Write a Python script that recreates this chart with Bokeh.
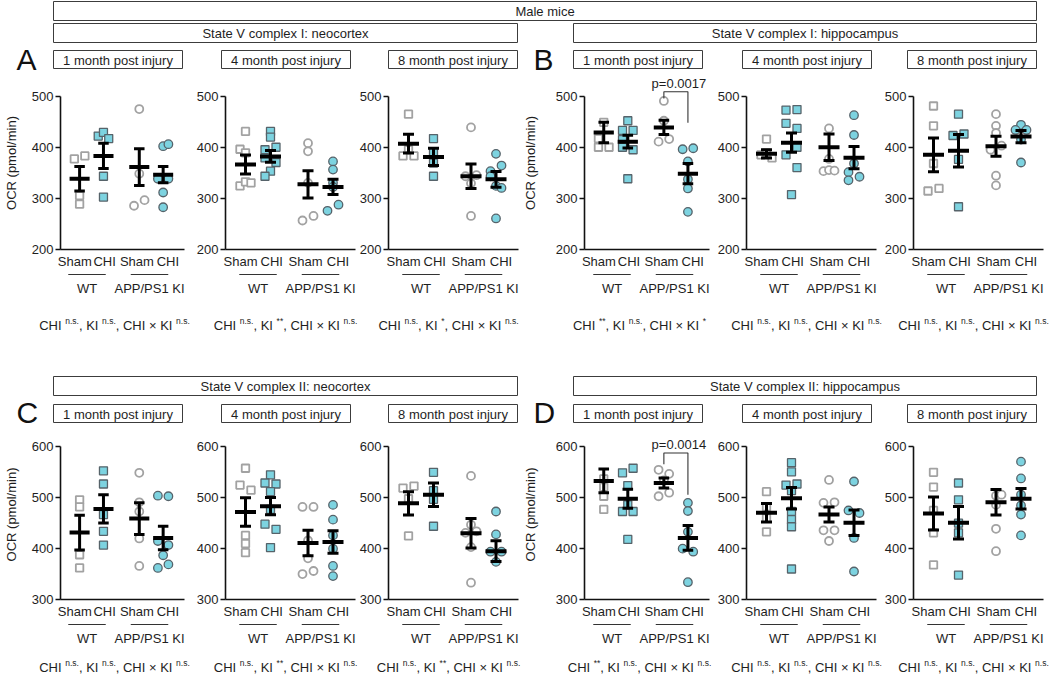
from bokeh.plotting import figure
from bokeh.models import Range1d, FixedTicker
from bokeh.layouts import column, row
from bokeh.embed import file_html
from bokeh.resources import INLINE
from bokeh.core.properties import value

FONT = "Liberation Sans"
INK = "#1e1e1e"
BOX_LINE = "#3c3c3c"
GRAY = "#a2a2a2"
CYAN = "#7dd3e0"
CYAN_EDGE = "#56636a"

# ---------------------------------------------------------------- data
title = "Male mice"
regions = ["State V complex I: neocortex", "State V complex I: hippocampus",
           "State V complex II: neocortex", "State V complex II: hippocampus"]
letters = ["A", "B", "C", "D"]
timepoints = ["1 month post injury", "4 month post injury", "8 month post injury"]
y_label = "OCR (pmol/min)"

group_labels = ["Sham", "CHI", "Sham", "CHI"]
group_x = [0.0, 1.0, 2.5, 3.5]
genotype_labels = ["WT", "APP/PS1 KI"]
genotype_x = [0.5, 3.0]
genotype_span = [(-0.25, 1.25), (2.25, 3.75)]

# groups in each panel: WT Sham, WT CHI, KI Sham, KI CHI
a1_pts = [[378, 384, 306, 289], [423, 430, 418, 344, 303], [476, 349, 286, 297], [403, 407, 339, 339, 312, 283]]
a1_lane = [[-1, 1, 0, 0], [-1, 0, 1, 0, 0], [0, 0, -1, 1], [0, 1, -1, 1, 0, 0]]
a1_mean = [339, 384, 362, 347]
a1_sem = [24, 25, 36, 16]
a1_sig = ["n.s.", "n.s.", "n.s."]

a2_pts = [[432, 397, 390, 325, 333, 331], [432, 421, 401, 396, 380, 371, 354, 344], [409, 393, 331, 257, 266], [373, 357, 331, 323, 276, 288]]
a2_lane = [[0, -1, 0, -1, 0, 1], [0, 0, 1, -1, -1, 1, 0, -1], [0, 0, 0, -1, 1], [0, 0, 0, 0, -1, 1]]
a2_mean = [367, 383, 328, 323]
a2_sem = [18.5, 11.7, 26.6, 15]
a2_sig = ["n.s.", "**", "n.s."]

a3_pts = [[466, 396, 384, 384], [418, 392, 370, 344], [440, 344, 346, 330, 266], [388, 365, 354, 344, 325, 321, 261]]
a3_lane = [[0, 0, -1, 1], [0, 0, 0, 0], [0, -1, 1, 0, 0], [0, 1, -1, -1, 0, 1, 0]]
a3_mean = [408, 382, 344, 338]
a3_sem = [18.5, 17, 24, 15.5]
a3_sig = ["n.s.", "*", "n.s."]

b1_pts = [[450, 418, 401, 401], [453, 434, 434, 416, 401, 396, 339], [492, 453, 412, 417], [397, 399, 373, 338, 320, 274]]
b1_lane = [[0, -1, -1, 1], [0, -1, 1, -1, -1, 1, 0], [0, 0, -1, 1], [-1, 1, 0, 0, 0, 0]]
b1_mean = [430, 412, 440, 349]
b1_sem = [20, 12.5, 14, 20]
b1_sig = ["**", "n.s.", "*"]
b1_bracket = [497, 510, 449]   # left foot, top, right foot
b1_p = "p=0.0017"

b2_pts = [[417, 386, 380, 390], [474, 475, 448, 438, 401, 386, 361, 308], [438, 378, 354, 356, 355], [464, 425, 369, 352, 336, 343]]
b2_lane = [[0, -1, 1, 0], [-1, 1, -1, 1, 1, -1, 1, 0], [0, 0, -1, 0, 1], [0, 0, 0, -1, -1, 1]]
b2_mean = [388, 410, 401, 380.5]
b2_sem = [8, 19, 26, 22]
b2_sig = ["n.s.", "n.s.", "n.s."]

b3_pts = [[482, 443, 369, 315, 320], [466, 424, 427, 377, 284], [466, 443, 429, 396, 404, 345, 326], [445, 435, 435, 416, 371]]
b3_lane = [[0, 0, 0, -1, 1], [0, -1, 1, 0, 0], [0, 0, 0, -1, 1, 0, 0], [0, -1, 1, 0, 0]]
b3_mean = [386, 394, 403, 422]
b3_sem = [33, 32, 19.5, 12]
b3_sig = ["n.s.", "n.s.", "n.s."]

c1_pts = [[496, 482, 388, 362], [553, 527, 467, 434, 407], [549, 491, 473, 420, 366], [504, 503, 415, 407, 387, 362, 369]]
c1_lane = [[0, 0, 0, 0], [0, 0, 0, 0, 0], [0, 0, 0, 0, 0], [-1, 1, -1, 1, 0, -1, 1]]
c1_mean = [431.5, 478, 459, 421]
c1_sem = [34, 27.7, 31, 23]
c1_sig = ["n.s.", "n.s.", "n.s."]

c2_pts = [[558, 525, 515, 426, 410, 392], [545, 529, 527, 512, 477, 448, 438, 402], [482, 482, 416, 381, 350, 356], [486, 457, 426, 400, 366, 346]]
c2_lane = [[0, -1, 1, 0, 0, 0], [0, -1, 1, 0, 0, -1, 1, 0], [-1, 1, 0, 0, -1, 1], [0, 0, 0, 0, 0, 0]]
c2_mean = [472, 483.5, 411, 413]
c2_sem = [28, 17, 25, 22]
c2_sig = ["n.s.", "**", "n.s."]

c3_pts = [[519, 523, 498, 425], [550, 514, 497, 444], [543, 447, 431, 434, 403, 333], [473, 428, 394, 394, 374]]
c3_lane = [[-1, 1, 0, 0], [0, 0, 0, 0], [0, 0, -1, 1, 0, 0], [0, 0, -1, 1, 0]]
c3_mean = [489, 506, 430, 395]
c3_sem = [23, 23, 29, 20.5]
c3_sig = ["n.s.", "**", "n.s."]

d1_pts = [[537, 521, 503, 477], [549, 558, 524, 486, 473, 473, 418], [555, 547, 534, 503, 510], [490, 474, 433, 400, 394, 334]]
d1_lane = [[0, 0, 0, 0], [-1, 1, 0, 0, -1, 1, 0], [-1, 1, 0, -1, 1], [0, 0, 0, -1, 1, 0]]
d1_mean = [533, 498, 529, 421]
d1_sem = [23.4, 18.6, 9.7, 24.4]
d1_sig = ["**", "n.s.", "n.s."]
d1_bracket = [566, 588, 506]
d1_p = "p=0.0014"

d2_pts = [[512, 482, 460, 433], [569, 551, 525, 527, 514, 473, 457, 443, 360], [535, 490, 491, 436, 436, 415], [532, 475, 470, 421, 355]]
d2_lane = [[0, 0, 0, 0], [0, 0, -1, 1, 0, 0, 0, 0, 0], [0, -1, 1, -1, 1, 0], [0, -1, 1, 0, 0]]
d2_mean = [470.5, 499, 467, 451]
d2_sem = [18, 21, 14.7, 25]
d2_sig = ["n.s.", "n.s.", "n.s."]

d3_pts = [[550, 521, 475, 431, 368], [529, 496, 450, 431, 348], [504, 506, 486, 439, 395], [571, 538, 506, 485, 467, 426]]
d3_lane = [[0, 0, 0, 0, 0], [0, 0, 0, 0, 0], [0, 1, 0, 0, 0], [0, 0, 0, 0, 0, 0]]
d3_mean = [469, 451, 491, 498]
d3_sem = [32.5, 32, 25, 20]
d3_sig = ["n.s.", "n.s.", "n.s."]

row1_axis = (200, 500)
row2_axis = (300, 600)

# ---------------------------------------------------------------- layout
UNIT = 25.0          # px per category step
X_START = -0.8
X_AXIS_END = 4.4
JITTER = 0.22
LABEL_SHIFT = [-0.2, 0.05, -0.1, 0.2]   # nudges that keep neighbouring tick labels apart
PX_PER_Y = 175 / 340.0                  # vertical scale shared by both rows
FRAME_H = [175, 172]                    # frame heights, row 1 / row 2
XAX_H = 20
GRP_H = 26
TOP_H, MID_H, BOT_H = 76, 132, 28

COL_LEFT = [0, 187, 356, 519, 711, 878]
COL_W = [187, 169, 163, 192, 167, 172]
AXIS_OFF = [54, 38, 32, 60, 35, 35]
AXIS_X = [l + o for l, o in zip(COL_LEFT, AXIS_OFF)]
SUB_LEFT = [53, 221, 388, 573, 742, 907]
SUB_W = 129
REGION_SPAN = [(53, 517), (573, 1036)]

BASE_PX = 13
SUP_PX = 8.5
# Arial / Liberation Sans advance widths (1/1000 em)
ADV = {'C': 722, 'H': 722, 'I': 278, 'K': 667, ' ': 278, ',': 278, '×': 584,
       'n': 556, '.': 278, 's': 500, '*': 389}


def text_width(s, px):
    return sum(ADV.get(ch, 556) for ch in s) / 1000.0 * px


def band(h):
    b = figure(width=1050, height=h, x_range=Range1d(0, 1050), y_range=Range1d(h, 0),
               output_backend="svg", toolbar_location=None,
               x_axis_location=None, y_axis_location=None,
               min_border=0, min_border_left=0, min_border_right=0,
               min_border_top=0, min_border_bottom=0)
    b.outline_line_color = None
    b.xgrid.visible = False
    b.ygrid.visible = False
    return b


def boxed_text(b, left, right, top, bottom, txt):
    b.quad(left=[left], right=[right], top=[top], bottom=[bottom],
           fill_color=None, line_color=BOX_LINE, line_width=1)
    b.text(x=[(left + right) / 2], y=[(top + bottom) / 2 + 0.5], text=[txt],
           text_align="center", text_baseline="middle", text_color=INK,
           text_font=value(FONT), text_font_size=f"{BASE_PX}px")


def draw_stats(b, cx, y_mid, sig):
    pieces = [("CHI ", False), (sig[0], True), (", KI ", False), (sig[1], True),
              (", CHI × KI ", False), (sig[2], True)]
    total = sum(text_width(t, SUP_PX if s else BASE_PX) for t, s in pieces)
    x = cx - total / 2
    bx, bt, sx, st = [], [], [], []
    for t, s in pieces:
        if s:
            sx.append(x)
            st.append(t)
            x += text_width(t, SUP_PX)
        else:
            bx.append(x)
            bt.append(t)
            x += text_width(t, BASE_PX)
    b.text(x=bx, y=[y_mid] * len(bx), text=bt, text_align="left", text_baseline="middle",
           text_color=INK, text_font=value(FONT), text_font_size=f"{BASE_PX}px")
    b.text(x=sx, y=[y_mid - 4.5] * len(sx), text=st, text_align="left", text_baseline="middle",
           text_color=INK, text_font=value(FONT), text_font_size=f"{SUP_PX}px")


def header_rows(b, region_pair, letter_pair, y_region, y_letter, y_sub):
    for (l, r), txt in zip(REGION_SPAN, region_pair):
        boxed_text(b, l, r, y_region, y_region + 19, txt)
    b.text(x=[16, 533], y=[y_letter, y_letter], text=letter_pair, text_align="left",
           text_baseline="middle", text_color="#111111", text_font=value(FONT),
           text_font_size="30px")
    for k in range(6):
        boxed_text(b, SUB_LEFT[k], SUB_LEFT[k] + SUB_W, y_sub, y_sub + 18, timepoints[k % 3])


def make_panel(k, r, pts, lanes, means, sems, axis_lim, bracket=None, ptext=None):
    lb = AXIS_OFF[k]
    fw = COL_W[k] - lb
    xr = Range1d(X_START, X_START + fw / UNIT)
    ylo, yhi = axis_lim
    fh = FRAME_H[r]
    p = figure(width=COL_W[k], height=fh + XAX_H, x_range=xr,
               y_range=Range1d(ylo, ylo + fh / PX_PER_Y),
               output_backend="svg", toolbar_location=None,
               min_border_left=lb, min_border_right=0, min_border_top=0,
               min_border_bottom=XAX_H)
    p.outline_line_color = None
    p.xgrid.visible = False
    p.ygrid.visible = False

    label_pos = [gx + s for gx, s in zip(group_x, LABEL_SHIFT)]
    xa = p.xaxis[0]
    xa.ticker = FixedTicker(ticks=label_pos)
    xa.major_label_overrides = {pos: lab for pos, lab in zip(label_pos, group_labels)}
    xa.bounds = (X_START, X_AXIS_END)
    xa.major_tick_out = 0
    xa.major_tick_in = 0
    xa.minor_tick_out = 0
    xa.minor_tick_in = 0
    xa.major_label_standoff = 4
    xa.axis_line_width = 1.6
    xa.axis_line_color = "#111111"
    xa.major_label_text_font = FONT
    xa.major_label_text_font_size = f"{BASE_PX}px"
    xa.major_label_text_color = INK

    ya = p.yaxis[0]
    ya.ticker = FixedTicker(ticks=list(range(ylo, yhi + 1, 100)))
    ya.bounds = (ylo, yhi)
    ya.major_tick_out = 5
    ya.major_tick_in = 0
    ya.minor_tick_out = 0
    ya.minor_tick_in = 0
    ya.major_tick_line_width = 1.6
    ya.major_label_standoff = 2
    ya.axis_line_width = 1.6
    ya.axis_line_color = "#111111"
    ya.major_tick_line_color = "#111111"
    ya.major_label_text_font = FONT
    ya.major_label_text_font_size = f"{BASE_PX}px"
    ya.major_label_text_color = INK
    if k in (0, 3):
        ya.axis_label = y_label
        ya.axis_label_standoff = 10 if k == 0 else 15
        ya.axis_label_text_font = FONT
        ya.axis_label_text_font_size = f"{BASE_PX}px"
        ya.axis_label_text_font_style = "normal"
        ya.axis_label_text_color = INK

    # individual animals
    for g in range(4):
        xs = [group_x[g] + JITTER * ln for ln in lanes[g]]
        marker = "square" if g < 2 else "circle"
        if g % 2 == 0:
            p.scatter(xs, pts[g], marker=marker, size=7.5 if g < 2 else 8,
                      fill_color="white", line_color=GRAY, line_width=1.8)
        else:
            p.scatter(xs, pts[g], marker=marker, size=8 if g < 2 else 8.5,
                      fill_color=CYAN, line_color=CYAN_EDGE, line_width=1.3)

    # mean +/- SEM
    p.segment(x0=[gx - 0.42 for gx in group_x], x1=[gx + 0.42 for gx in group_x],
              y0=means, y1=means, line_color="black", line_width=4)
    lo = [m - s for m, s in zip(means, sems)]
    hi = [m + s for m, s in zip(means, sems)]
    p.segment(x0=group_x, x1=group_x, y0=lo, y1=hi, line_color="black", line_width=3)
    p.segment(x0=[gx - 0.22 for gx in group_x] * 2, x1=[gx + 0.22 for gx in group_x] * 2,
              y0=lo + hi, y1=lo + hi, line_color="black", line_width=3)

    if bracket is not None:
        xl, xr_ = group_x[2], group_x[3]
        p.line(x=[xl, xl, xr_, xr_], y=[bracket[0], bracket[1], bracket[1], bracket[2]],
               line_color="#333333", line_width=1.1)
        p.text(x=[(xl + xr_) / 2], y=[bracket[1]], text=[ptext], text_align="center",
               text_baseline="middle", y_offset=-8, x_offset=3, text_color=INK,
               text_font=value(FONT), text_font_size=f"{BASE_PX}px")

    # genotype bars under the group labels
    g_fig = figure(width=COL_W[k], height=GRP_H, x_range=xr, y_range=Range1d(GRP_H, 0),
                   output_backend="svg", toolbar_location=None,
                   x_axis_location=None, y_axis_location=None,
                   min_border_left=lb, min_border_right=0, min_border_top=0,
                   min_border_bottom=0)
    g_fig.outline_line_color = None
    g_fig.xgrid.visible = False
    g_fig.ygrid.visible = False
    g_fig.segment(x0=[s[0] for s in genotype_span], x1=[s[1] for s in genotype_span],
                  y0=[3, 3], y1=[3, 3], line_color="#333333", line_width=1.1)
    g_fig.text(x=genotype_x, y=[16.5, 16.5], text=genotype_labels, text_align="center",
               text_baseline="middle", text_color=INK, text_font=value(FONT),
               text_font_size=f"{BASE_PX}px")
    return p, g_fig


row1 = [(a1_pts, a1_lane, a1_mean, a1_sem, None, None),
        (a2_pts, a2_lane, a2_mean, a2_sem, None, None),
        (a3_pts, a3_lane, a3_mean, a3_sem, None, None),
        (b1_pts, b1_lane, b1_mean, b1_sem, b1_bracket, b1_p),
        (b2_pts, b2_lane, b2_mean, b2_sem, None, None),
        (b3_pts, b3_lane, b3_mean, b3_sem, None, None)]
row2 = [(c1_pts, c1_lane, c1_mean, c1_sem, None, None),
        (c2_pts, c2_lane, c2_mean, c2_sem, None, None),
        (c3_pts, c3_lane, c3_mean, c3_sem, None, None),
        (d1_pts, d1_lane, d1_mean, d1_sem, d1_bracket, d1_p),
        (d2_pts, d2_lane, d2_mean, d2_sem, None, None),
        (d3_pts, d3_lane, d3_mean, d3_sem, None, None)]
sig1 = [a1_sig, a2_sig, a3_sig, b1_sig, b2_sig, b3_sig]
sig2 = [c1_sig, c2_sig, c3_sig, d1_sig, d2_sig, d3_sig]

# top band: title, complex I headers, letters and time-point boxes
top = band(TOP_H)
boxed_text(top, REGION_SPAN[0][0], REGION_SPAN[1][1], 1, 20, title)
header_rows(top, regions[:2], letters[:2], 23, 59, 50)

# middle band: complex I statistics, complex II headers
mid = band(MID_H)
for k in range(6):
    draw_stats(mid, AXIS_X[k] + 60, 28, sig1[k])
header_rows(mid, regions[2:], letters[2:], 79, 114.5, 107)

# bottom band: complex II statistics
bot = band(BOT_H)
for k in range(6):
    draw_stats(bot, AXIS_X[k] + 60, 19.5, sig2[k])

p_row1, g_row1, p_row2, g_row2 = [], [], [], []
for k, d in enumerate(row1):
    p, g = make_panel(k, 0, *d[:4], row1_axis, d[4], d[5])
    p_row1.append(p)
    g_row1.append(g)
for k, d in enumerate(row2):
    p, g = make_panel(k, 1, *d[:4], row2_axis, d[4], d[5])
    p_row2.append(p)
    g_row2.append(g)

layout = column(top, row(p_row1), row(g_row1), mid, row(p_row2), row(g_row2), bot)

open("out.html", "w").write(file_html(layout, INLINE))
